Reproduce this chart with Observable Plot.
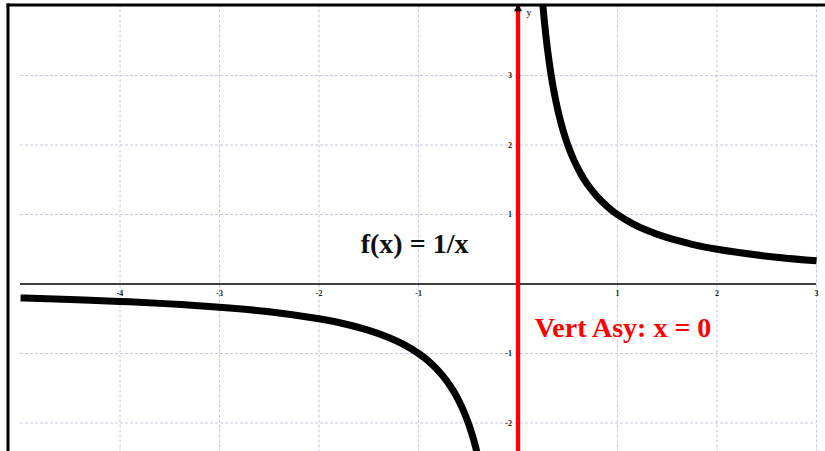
<!DOCTYPE html>
<html>
<head>
<meta charset="utf-8">
<script src="https://cdn.jsdelivr.net/npm/d3@7"></script>
<script src="https://cdn.jsdelivr.net/npm/@observablehq/plot@0.6"></script>
<style>
  html, body { margin: 0; padding: 0; background: #fff; }
  #chart svg { display: block; }
</style>
</head>
<body>
<div id="chart"></div>
<script>
// f(x) = 1/x, drawn on two branches either side of the vertical asymptote
const f = x => 1 / x;

// sample positions along each branch
const leftXs = [-5, -4.5, -4, -3.5, -3, -2.5, -2, -1.75, -1.5, -1.3, -1.15, -1, -0.9, -0.8, -0.72, -0.65, -0.6, -0.55, -0.5, -0.46, -0.43, -0.4];
const rightXs = [0.24, 0.26, 0.28, 0.3, 0.33, 0.36, 0.4, 0.45, 0.5, 0.56, 0.63, 0.7, 0.8, 0.9, 1, 1.15, 1.3, 1.5, 1.75, 2, 2.5, 3];

// grid and tick labels
const xTicks = [-4, -3, -2, -1, 1, 2, 3];
const yTicks = [-2, -1, 1, 2, 3];
const xGrid = [-4, -3, -2, -1, 1, 2, 3];
const yGrid = [-2, -1, 1, 2, 3];

const asymptoteX = 0;
const functionLabel = "f(x) = 1/x";
const asymptoteLabel = "Vert Asy: x = 0";
const yAxisName = "y";

const leftBranch = leftXs.map(x => ({x, y: f(x)}));
const rightBranch = rightXs.map(x => ({x, y: f(x)}));

const serif = "Liberation Serif, Times New Roman, serif";
const gridColor = "#c6c6e2";

const chart = Plot.plot({
  width: 825,
  height: 451,
  marginLeft: 7.5,
  marginRight: 0,
  marginTop: 4.5,
  marginBottom: 0,
  x: {domain: [-5.126, 3.09], axis: null},
  y: {domain: [-2.41, 4.015], axis: null},
  style: {fontFamily: serif, background: "#fff"},
  marks: [
    // dashed grid
    Plot.ruleX(xGrid, {x: d => d, stroke: gridColor, strokeWidth: 1, strokeDasharray: "3,2"}),
    Plot.ruleY(yGrid, {y: d => d, x1: -5, x2: 3, stroke: gridColor, strokeWidth: 1, strokeDasharray: "3,2"}),
    // x axis
    Plot.ruleY([0], {x1: -5, x2: 3, stroke: "#000", strokeWidth: 1.5}),
    // tick labels
    Plot.text(xTicks, {x: d => d, y: 0, text: d => String(d), dy: 9.5, fontSize: 8, fontWeight: "bold", fill: "#222"}),
    Plot.text(yTicks, {x: 0, y: d => d, text: d => String(d), dx: -6, textAnchor: "end", fontSize: 8, fontWeight: "bold", fill: "#222"}),
    // the function
    Plot.line(leftBranch, {x: "x", y: "y", stroke: "#000", strokeWidth: 7, curve: "natural", strokeLinecap: "butt", clip: true}),
    Plot.line(rightBranch, {x: "x", y: "y", stroke: "#000", strokeWidth: 7, curve: "natural", strokeLinecap: "butt", clip: true}),
    // vertical asymptote
    Plot.ruleX([asymptoteX], {x: d => d, stroke: "#ff0000", strokeWidth: 4.3}),
    Plot.dot([asymptoteX], {x: d => d, y: 4.015, dy: 4, symbol: "triangle", r: 3, fill: "#000", stroke: "none"}),
    Plot.text([yAxisName], {x: asymptoteX, y: 4.015, text: d => d, dx: 11, dy: 8, fontSize: 10, fill: "#000"}),
    // frame: top and left edges
    Plot.frame({anchor: "top", stroke: "#000", strokeWidth: 3}),
    Plot.frame({anchor: "left", stroke: "#000", strokeWidth: 3}),
    // annotations
    Plot.text([functionLabel], {x: -1.04, y: 0.57, text: d => d, fontSize: 28, fontWeight: "bold", fill: "#111"}),
    Plot.text([asymptoteLabel], {x: 1.055, y: -0.64, text: d => d, fontSize: 28, fontWeight: "bold", fill: "#ff0000"})
  ]
});

document.getElementById("chart").append(chart);
</script>
</body>
</html>
